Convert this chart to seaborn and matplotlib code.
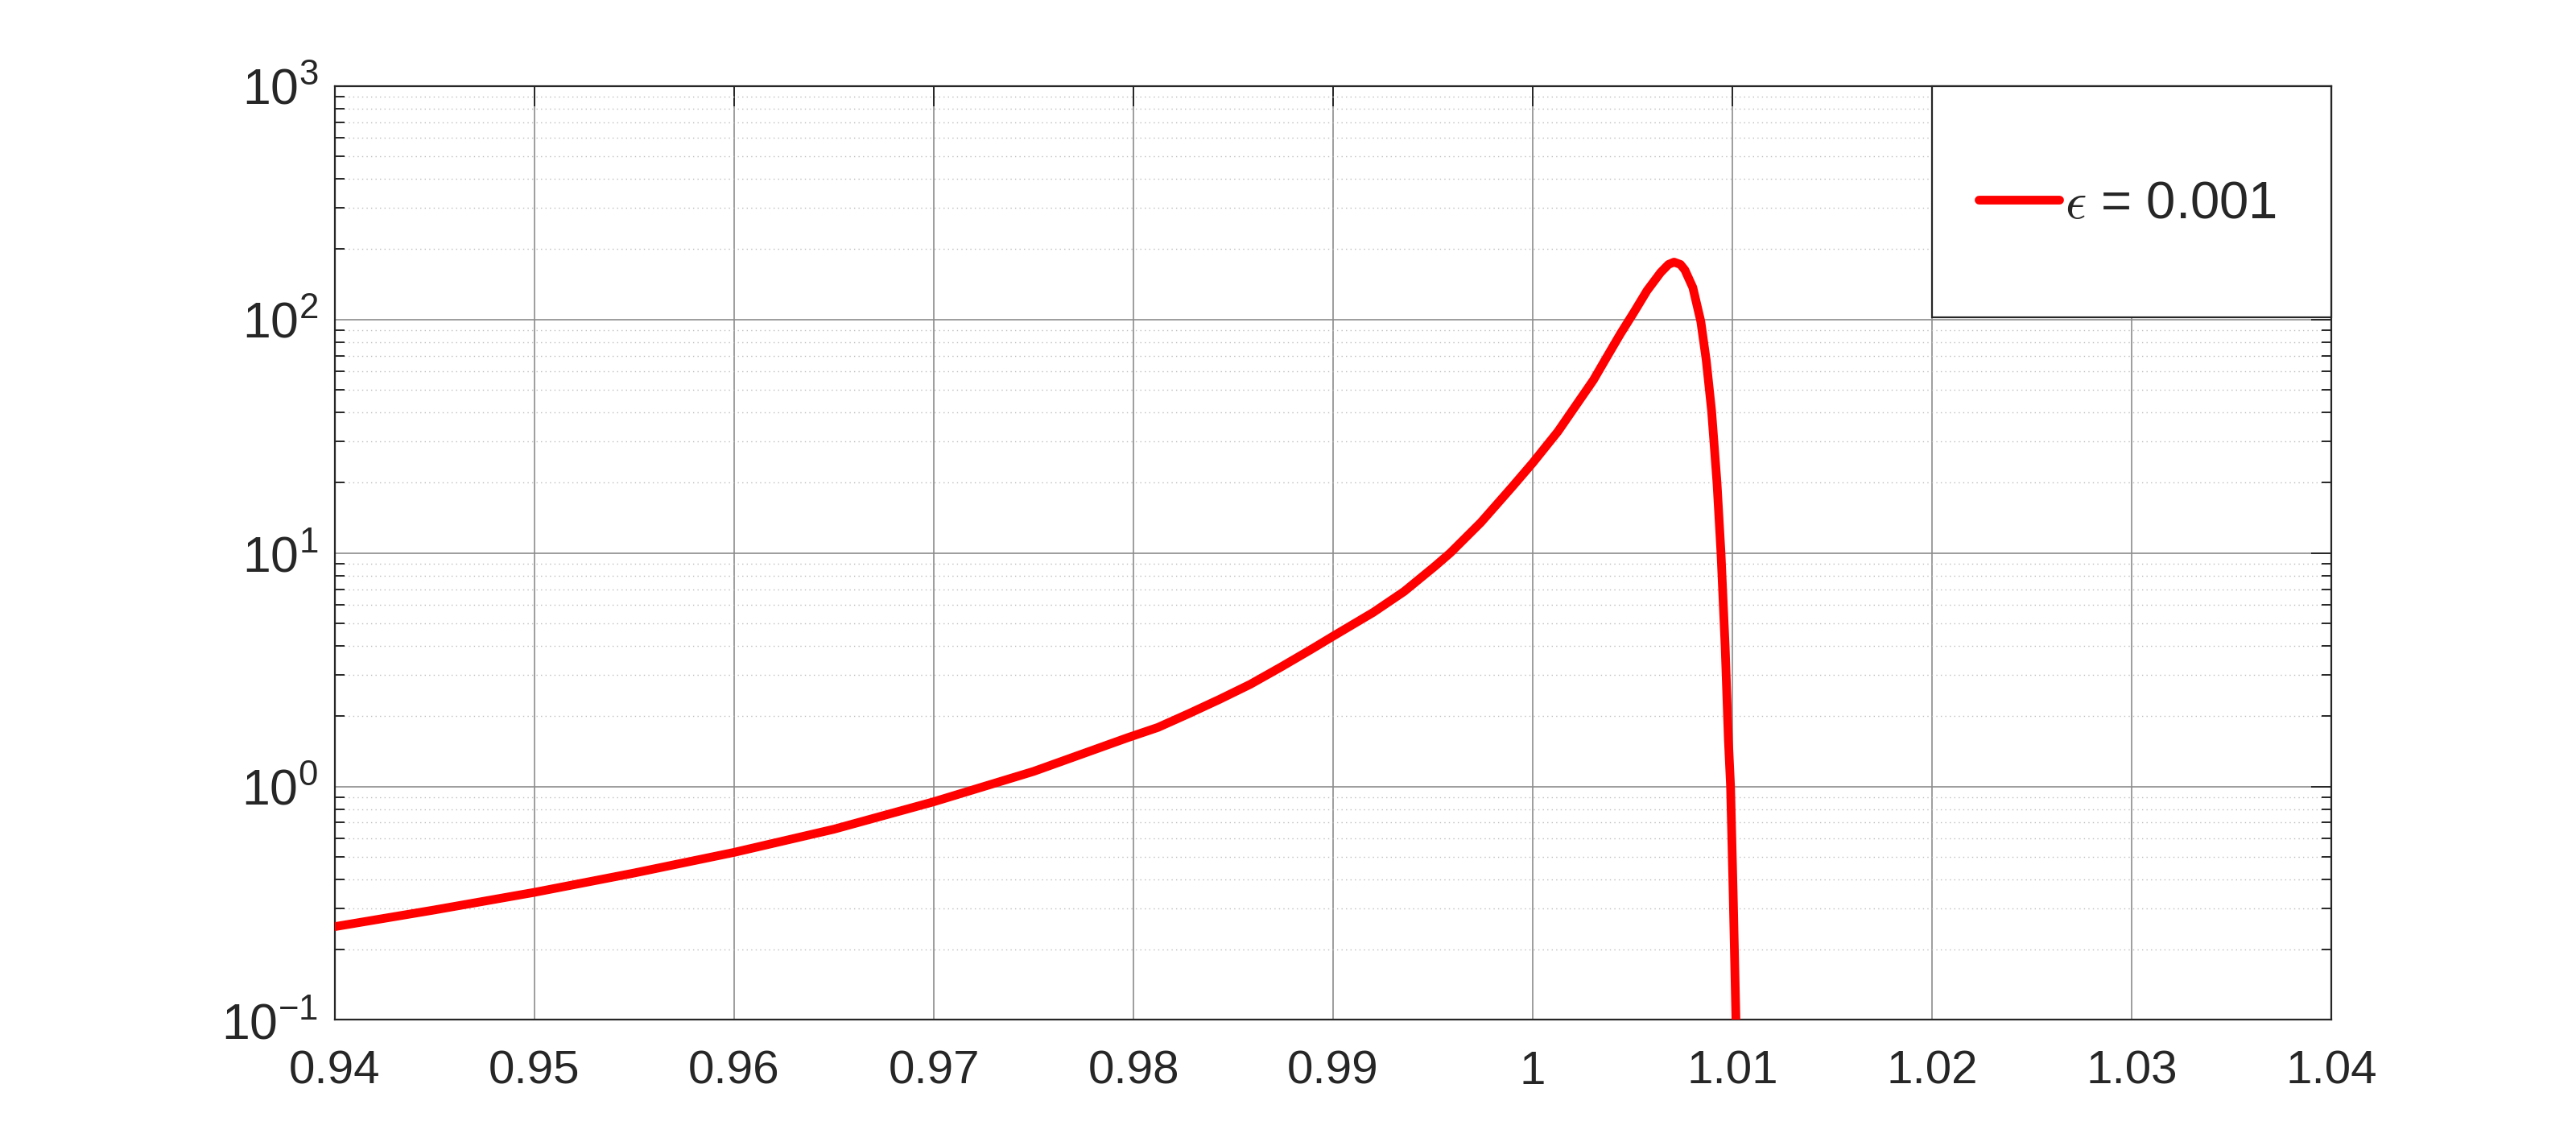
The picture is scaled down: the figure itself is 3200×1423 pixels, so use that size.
import numpy as np
import pandas as pd
import matplotlib
matplotlib.use('Agg')
import matplotlib.pyplot as plt
from matplotlib.patches import Rectangle
from matplotlib.ticker import LogLocator, FixedLocator
import seaborn as sns

# values (log-scale y)
x_vals = [0.940, 0.945, 0.950, 0.955, 0.960, 0.965, 0.970, 0.975,
          0.97969, 0.98123, 0.98277, 0.98431, 0.98586, 0.98740, 0.98894,
          0.99000, 0.99202, 0.99356, 0.99510, 0.99587, 0.99740, 0.99895,
          1.00000, 1.00126, 1.00304, 1.00371, 1.00439, 1.00506, 1.00573,
          1.00641, 1.00680, 1.00708, 1.00740, 1.00762, 1.00802, 1.00842,
          1.00869, 1.00896, 1.00923, 1.00943, 1.00964, 1.00980, 1.00991,
          1.01004, 1.01018, 1.01030]
y_vals = [0.251, 0.296, 0.352, 0.426, 0.522, 0.656, 0.86, 1.16,
          1.615, 1.79, 2.05, 2.36, 2.74, 3.25, 3.88,
          4.4, 5.57, 6.84, 8.77, 10.0, 13.5, 19.1,
          24.3, 33.1, 55.0, 69.0, 86.7, 107.0, 133.0,
          159.0, 172.0, 176.0, 172.0, 163.0, 137.0, 98.0,
          67.0, 40.6, 20.0, 10.0, 3.96, 1.59, 1.0,
          0.349, 0.1, 0.05]
series_label = r'$\epsilon$ = 0.001'
x_ticks = [0.94, 0.95, 0.96, 0.97, 0.98, 0.99, 1.00, 1.01, 1.02, 1.03, 1.04]
x_ticklabels = ['0.94', '0.95', '0.96', '0.97', '0.98', '0.99', '1',
                '1.01', '1.02', '1.03', '1.04']

df = pd.DataFrame({'x': x_vals, 'y': y_vals})

sns.set_style('white')
plt.rcParams['font.family'] = ['Liberation Sans', 'DejaVu Sans']
plt.rcParams['mathtext.fontset'] = 'cm'
plt.rcParams['axes.unicode_minus'] = False

fig = plt.figure(figsize=(32, 14.23), dpi=100)
ax = fig.add_axes([0.13, 0.11, 0.775, 0.815])

sns.lineplot(data=df, x='x', y='y', ax=ax, color='#ff0000', linewidth=7.8,
             label=series_label, legend=False, zorder=3)
ax.lines[0].set_solid_joinstyle('round')

ax.set_yscale('log')
ax.set_xlim(0.94, 1.04)
ax.set_ylim(0.1, 1000)
ax.set_xlabel('')
ax.set_ylabel('')

ax.xaxis.set_major_locator(FixedLocator(x_ticks))
ax.set_xticklabels(x_ticklabels)
ax.yaxis.set_major_locator(LogLocator(base=10, numticks=10))
ax.yaxis.set_minor_locator(LogLocator(base=10, subs=np.arange(2, 10), numticks=10))

ax.grid(True, which='major', axis='both', color='#8c8c8c', linewidth=1.2)
ax.grid(True, which='minor', axis='y', color='#bdbdbd', linewidth=1.0,
        linestyle=(0, (1, 3)))
ax.set_axisbelow(True)

for s in ax.spines.values():
    s.set_color('#262626')
    s.set_linewidth(1.6)

ax.tick_params(axis='both', which='major', direction='in', length=18, width=1.4,
               color='#262626', labelcolor='#262626', top=True, right=True)
ax.tick_params(axis='x', which='major', pad=27, labelsize=42)
ax.tick_params(axis='y', which='major', pad=15, labelsize=45)
ax.tick_params(axis='y', which='minor', direction='in', length=8.5, width=1.4,
               color='#262626', left=True, right=True)
ax.tick_params(axis='x', which='minor', bottom=False, top=False)

# legend box in the top-right corner
ax.add_patch(Rectangle((0.8, 0.752), 0.2, 0.248, transform=ax.transAxes,
                       facecolor='white', edgecolor='#262626', linewidth=1.6,
                       zorder=4, clip_on=False))
handles, labels = ax.get_legend_handles_labels()
leg = ax.legend(handles, labels, loc='center', bbox_to_anchor=(0.898, 0.873),
                frameon=False, fontsize=47, handlelength=1.53,
                handletextpad=0.1)
leg.set_zorder(5)

fig.savefig('out.png', dpi=100)
